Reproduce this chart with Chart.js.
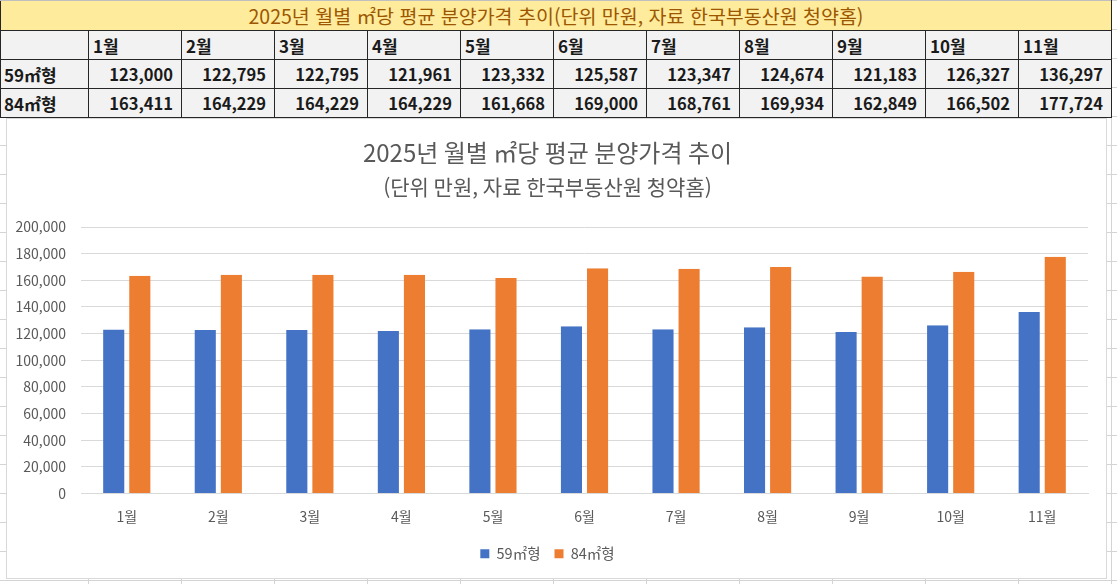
<!DOCTYPE html>
<html lang="ko">
<head>
<meta charset="utf-8">
<script src="https://cdn.jsdelivr.net/npm/chart.js@4"></script>
<style>
  html, body { margin: 0; padding: 0; }
  body {
    width: 1117px; height: 584px; overflow: hidden; position: relative;
    background-color: #fff;
    background-image:
      linear-gradient(to right, #d4d4d4 1px, transparent 1px),
      linear-gradient(to bottom, #d4d4d4 1px, transparent 1px);
    background-size: 93px 100%, 100% 29px;
    background-position: 88px 0, 0 0;
    font-family: "Noto Sans CJK KR", "Noto Sans", sans-serif;
  }
  #sheet {
    position: absolute; left: 0; top: 0;
    border-collapse: collapse; table-layout: fixed; width: 1111px;
  }
  #sheet td {
    height: 28px; padding: 0; border: 1px solid #262626;
    background: #f2f2f2; color: #1a1a1a; font-weight: bold; font-size: 16.5px;
    white-space: nowrap; overflow: hidden;
  }
  #sheet td.head { text-align: left; padding-left: 4px; font-size: 17px; }
  #sheet td.num { text-align: right; padding-right: 8px; }
  #sheet td.lbl { text-align: left; padding-left: 3px; font-size: 17px; }
  #sheet td.ttl {
    background: #ffeb9c; color: #9c5700; font-weight: normal; font-size: 19.5px;
    text-align: center; border-top-color: #bfbfbf;
  }
  #box {
    position: absolute; left: 6px; top: 118px; width: 1101px; height: 461px;
    box-sizing: border-box; border: 1px solid #d9d9d9; background: #fff;
  }
</style>
</head>
<body>
<table id="sheet"></table>
<div id="box"><canvas id="chart"></canvas></div>
<script>
const title = "2025년 월별 ㎡당 평균 분양가격 추이";
const subtitle = "(단위 만원, 자료 한국부동산원 청약홈)";
const months = ["1월", "2월", "3월", "4월", "5월", "6월", "7월", "8월", "9월", "10월", "11월"];
const series59 = [123000, 122795, 122795, 121961, 123332, 125587, 123347, 124674, 121183, 126327, 136297];
const series84 = [163411, 164229, 164229, 164229, 161668, 169000, 168761, 169934, 162849, 166502, 177724];
const seriesNames = ["59㎡형", "84㎡형"];
const colors = ["#4472c4", "#ed7d31"];

// worksheet table above the chart
const fmt = v => v.toLocaleString("en-US");
const table = document.getElementById("sheet");
let html = '<colgroup><col style="width:88px">' + months.map(() => '<col style="width:93px">').join("") + "</colgroup>";
html += `<tr><td class="ttl" colspan="${months.length + 1}">${title}${subtitle}</td></tr>`;
html += '<tr><td></td>' + months.map(m => `<td class="head">${m}</td>`).join("") + "</tr>";
[series59, series84].forEach((s, i) => {
    html += `<tr><td class="lbl">${seriesNames[i]}</td>` + s.map(v => `<td class="num">${fmt(v)}</td>`).join("") + "</tr>";
});
table.innerHTML = html;

const font = "'Noto Sans CJK KR', 'Noto Sans', sans-serif";
const textColor = "#595959";
const gridColor = "#d9d9d9";

new Chart(document.getElementById("chart"), {
    type: "bar",
    data: {
        labels: months,
        datasets: [series59, series84].map((s, i) => ({
            label: seriesNames[i],
            data: s,
            backgroundColor: colors[i],
            borderColor: "rgba(0,0,0,0)",
            borderWidth: { left: 2.5, right: 2.5, top: 0, bottom: 0 },
            categoryPercentage: 0.57,
            barPercentage: 1.0
        }))
    },
    options: {
        responsive: true,
        maintainAspectRatio: false,
        animation: false,
        layout: { padding: { top: 8, right: 18, bottom: 7, left: 0 } },
        plugins: {
            title: {
                display: true, text: title, color: textColor,
                font: { family: font, size: 24, weight: "normal" },
                padding: { top: 11, bottom: 5 }
            },
            subtitle: {
                display: true, text: subtitle, color: textColor,
                font: { family: font, size: 21, weight: "normal" },
                padding: { top: 3, bottom: 27 }
            },
            legend: {
                position: "bottom",
                labels: {
                    color: textColor, boxWidth: 9, boxHeight: 9, padding: 14,
                    font: { family: font, size: 14.5 }
                }
            },
            tooltip: { enabled: false }
        },
        scales: {
            x: {
                grid: { display: false },
                border: { color: gridColor },
                ticks: { color: textColor, padding: 7, font: { family: font, size: 14 } },
                afterFit: scale => { scale.height = 39; }
            },
            y: {
                min: 0, max: 200000,
                grid: { color: gridColor, drawTicks: false },
                border: { display: false },
                ticks: {
                    stepSize: 20000, color: textColor, padding: 15,
                    font: { family: font, size: 14 },
                    callback: v => fmt(v)
                },
                afterFit: scale => { scale.width = 74; }
            }
        }
    }
});
</script>
</body>
</html>
